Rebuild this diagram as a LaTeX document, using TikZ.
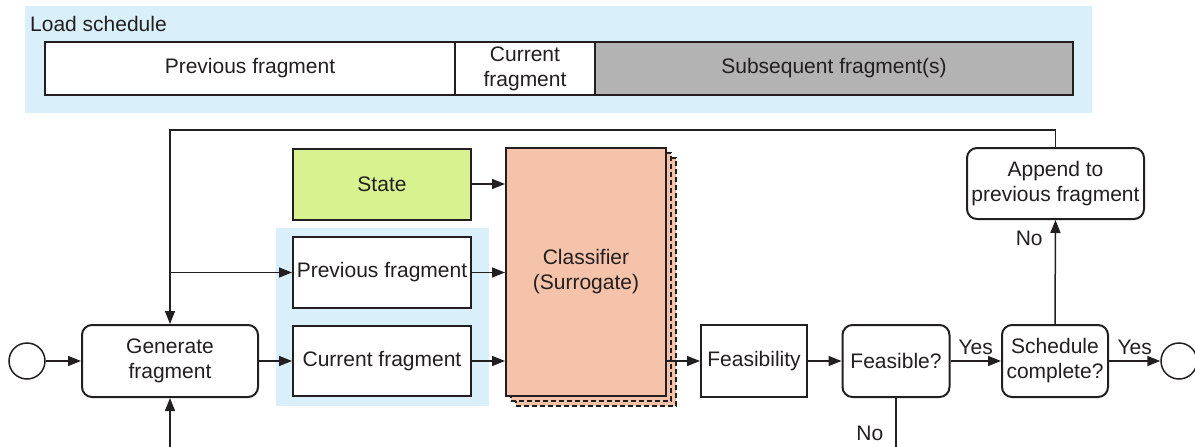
\documentclass[tikz,border=0pt]{standalone}
\usepackage{fontspec}
\setmainfont{Liberation Sans}
\usetikzlibrary{arrows.meta}
\definecolor{ink}{HTML}{231F20}
\definecolor{paleblue}{HTML}{D9F0FA}
\definecolor{stategreen}{HTML}{D7F28F}
\definecolor{salmon}{HTML}{F5C2AA}
\definecolor{futuregray}{HTML}{B3B3B3}

\begin{document}
\begin{tikzpicture}[x=1pt,y=-1pt,
  every node/.style={font=\fontsize{21}{25}\selectfont, text=ink, align=center, inner sep=0pt},
  box/.style={draw=ink, line width=2pt, fill=white, minimum width=178pt, minimum height=71pt},
  rbox/.style={box, rounded corners=10pt},
  stack/.style={box, fill=salmon, dashed, dash pattern=on 5pt off 3pt,
                minimum width=160pt, minimum height=248pt},
  flow/.style={draw=ink, line width=1.5pt, -{Triangle[length=13pt,width=10pt]}},
  wire/.style={draw=ink, line width=1.5pt},
  event/.style={circle, draw=ink, line width=1.5pt, minimum size=36pt, fill=white}
]
\useasboundingbox (0,0) rectangle (1195,447);

% load schedule band
\fill[paleblue] (25,6) rectangle (1092,113);
\node[anchor=west] (title) at (30,24) {Load schedule};
\node[box, minimum width=410pt, minimum height=53pt] (segPrev) at (250,68.5) {Previous fragment};
\node[box, minimum width=140pt, minimum height=53pt] (segCur) at (525,68.5) {Current\\fragment};
\node[box, fill=futuregray, minimum width=478pt, minimum height=53pt] (segNext) at (834,68.5) {Subsequent fragment(s)};

% fragment inputs group
\fill[paleblue] (276,228) rectangle (489,406);

% process nodes
\node[event] (start) at (27,361) {};
\node[rbox, minimum width=176pt, minimum height=72pt] (gen) at (170,361) {Generate\\fragment};
\node[box, fill=stategreen] (state) at (382,184) {State};
\node[box] (prev) at (382,272.5) {Previous fragment};
\node[box, minimum height=70pt] (cur) at (382,361) {Current fragment};

\node[stack] (clfB) at (596,282) {};
\node[stack] (clfA) at (591,277) {};
\node[box, fill=salmon, minimum width=160pt, minimum height=248pt] (clf) at (586,272) {Classifier\\(Surrogate)};

\node[box, minimum width=106pt, minimum height=72pt] (feas) at (754,361) {Feasibility};
\node[rbox, minimum width=107pt, minimum height=72pt] (isfeas) at (896,361) {Feasible?};
\node[rbox, minimum width=106pt, minimum height=72pt] (done) at (1055,361) {Schedule\\complete?};
\node[event] (stop) at (1179,361) {};
\node[rbox, minimum width=177pt, minimum height=71pt] (append) at (1055.5,183.5) {Append to\\previous fragment};

% connectors
\draw[flow] (start) -- (gen);
\draw[flow] (gen) -- (cur);
\draw[flow] (state.east) -- (state.east -| clf.west);
\draw[flow] (prev.east) -- (prev.east -| clf.west);
\draw[flow] (cur.east) -- (cur.east -| clf.west);
\draw[flow] (clf.east |- feas.west) -- (feas.west);
\draw[flow] (feas) -- (isfeas);
\draw[flow] (isfeas) -- node[above=6pt] {Yes} (done);
\draw[flow] (done) -- node[above=6pt] {Yes} (stop);
\draw[flow] (done.north) -- node[pos=0.82, left=12pt] {No} (append.south);
\draw[flow] (append.north) -- ++(0,-17) -| (gen.north);
\coordinate (tap) at (gen.north |- prev.west);
\draw[flow] (tap) -- (prev.west);
\coordinate (genFeed) at (170,447);
\draw[flow] (genFeed) -- (gen.south);
\coordinate (noExit) at (896,447);
\draw[wire] (isfeas.south) -- node[pos=0.72, left=12pt] {No} (noExit);
\end{tikzpicture}
\end{document}
